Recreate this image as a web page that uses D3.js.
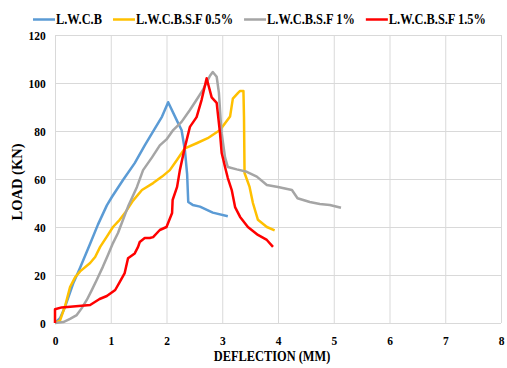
<!DOCTYPE html>
<html>
<head>
<meta charset="utf-8">
<script src="https://cdn.jsdelivr.net/npm/d3@7"></script>
<style>
  body { margin: 0; background: #fff; }
  text { font-family: "Times New Roman", "Liberation Serif", serif; font-weight: bold; fill: #000; }
</style>
</head>
<body>
<div id="viz"></div>
<script>
// values: [deflection mm, load kN]
const lwcb = [[0,0],[0.09,2],[0.18,6.7],[0.33,16.7],[0.45,23],[0.63,33],[0.77,41],[0.93,49],[1.02,52.5],[1.22,59.6],[1.43,66.6],[1.61,74],[1.79,81],[1.92,86],[2.03,92],[2.2,83.7],[2.27,80.4],[2.33,72],[2.37,62],[2.39,50.4],[2.47,49.2],[2.6,48.5],[2.83,46],[3.1,44.5]]
const lwcbsf05 = [[0,0],[0.09,1],[0.18,7],[0.27,15],[0.36,19],[0.45,21.5],[0.63,25],[0.72,27.5],[0.81,31.7],[0.93,36],[1.04,40],[1.16,43],[1.25,45.7],[1.4,51],[1.56,55.4],[1.76,58.3],[1.92,61],[2.06,63.7],[2.19,68],[2.33,72.8],[2.54,74.9],[2.74,77],[2.96,80.4],[3.14,86],[3.19,93.5],[3.28,95.8],[3.32,96.7],[3.38,96.7],[3.39,86],[3.4,62.5],[3.49,56.7],[3.55,50],[3.64,43],[3.8,40],[3.94,38.6]]
const lwcbsf1 = [[0,0],[0.15,0.4],[0.27,1.7],[0.39,3.3],[0.48,6.2],[0.57,9.6],[0.66,13.7],[0.75,18],[0.86,23.5],[0.95,28.3],[1.04,33.3],[1.13,37.5],[1.22,43],[1.31,48.5],[1.47,56.7],[1.58,63.7],[1.74,69],[1.88,74],[2.0,76.5],[2.12,80.4],[2.27,83.8],[2.42,88.75],[2.54,93],[2.65,97],[2.78,103],[2.83,104.6],[2.9,102.6],[2.94,96],[2.97,85],[2.99,79],[3.05,69],[3.1,65],[3.26,64],[3.44,63],[3.62,61],[3.8,57.5],[4.0,56.7],[4.25,55.4],[4.35,52],[4.57,50.4],[4.75,49.6],[4.93,49.2],[5.13,48]]
const lwcbsf15 = [[0,0],[0,5.7],[0.12,6.5],[0.63,7.5],[0.8,10],[0.93,11.25],[1.08,13.75],[1.16,17],[1.25,20.8],[1.31,27],[1.43,29],[1.49,31.7],[1.52,33.75],[1.61,35.4],[1.7,35.4],[1.76,35.8],[1.88,38.75],[2.0,40],[2.1,45.8],[2.11,51.25],[2.19,56.7],[2.24,63.7],[2.33,73.3],[2.42,81.7],[2.54,85.8],[2.63,93],[2.72,102],[2.81,94],[2.9,91.7],[2.96,79],[2.99,70.8],[3.05,65],[3.1,60.4],[3.17,55.4],[3.23,48.3],[3.32,44.2],[3.46,40],[3.64,36.7],[3.8,34.6],[3.91,31.7]]

const seriesNames = ["L.W.C.B", "L.W.C.B.S.F 0.5%", "L.W.C.B.S.F 1%", "L.W.C.B.S.F 1.5%"]
const seriesColors = ["#5b9bd5", "#ffc000", "#a5a5a5", "#ff0000"]
const xTicks = [0, 1, 2, 3, 4, 5, 6, 7, 8]
const yTicks = [0, 20, 40, 60, 80, 100, 120]

const width = 507
const height = 368
const plotLeft = 55, plotRight = 501, plotTop = 35, plotBottom = 323
const squeeze = 0.85
const legendSqueeze = 0.885

const svg = d3.select("#viz").append("svg")
  .attr("width", width)
  .attr("height", height)

const x = d3.scaleLinear().domain([0, 8]).range([plotLeft, plotRight])
const y = d3.scaleLinear().domain([0, 120]).range([plotBottom, plotTop])

// grid
svg.append("g")
  .attr("transform", `translate(0,${plotBottom})`)
  .call(d3.axisBottom(x).tickValues(xTicks).tickSize(-(plotBottom - plotTop)).tickFormat(d => d).tickPadding(12))
  .call(g => g.select(".domain").remove())
  .call(g => g.selectAll("line").attr("stroke", "#d9d9d9"))
  .call(g => g.selectAll("text").attr("font-size", 13.5).attr("transform", `scale(${squeeze},1)`))

svg.append("g")
  .attr("transform", `translate(${plotLeft},0)`)
  .call(d3.axisLeft(y).tickValues(yTicks).tickSize(-(plotRight - plotLeft)).tickFormat(d => d).tickPadding(11))
  .call(g => g.select(".domain").remove())
  .call(g => g.selectAll("line").attr("stroke", "#d9d9d9"))
  .call(g => g.selectAll("text").attr("font-size", 13.5).attr("transform", `scale(${squeeze},1)`))

svg.selectAll(".tick text").attr("fill", "#000").style("font-family", '"Times New Roman", "Liberation Serif", serif').style("font-weight", "bold")

// lines
const line = d3.line().x(d => x(d[0])).y(d => y(d[1]))
const allSeries = [lwcb, lwcbsf05, lwcbsf1, lwcbsf15]

svg.selectAll("path.series")
  .data(allSeries)
  .enter()
  .append("path")
  .attr("class", "series")
  .attr("d", d => line(d))
  .attr("fill", "none")
  .attr("stroke", (d, i) => seriesColors[i])
  .attr("stroke-width", 2.5)
  .attr("stroke-linejoin", "round")

// axis titles
svg.append("text")
  .attr("transform", `translate(272,361) scale(${legendSqueeze},1)`)
  .attr("text-anchor", "middle")
  .attr("font-size", 14)
  .text("DEFLECTION (MM)")

svg.append("text")
  .attr("transform", "translate(22,182) rotate(-90)")
  .attr("text-anchor", "middle")
  .attr("font-size", 14.5)
  .text("LOAD (KN)")

// legend
let lx = 33
seriesNames.forEach((name, i) => {
  svg.append("line")
    .attr("x1", lx).attr("x2", lx + 22)
    .attr("y1", 19.5).attr("y2", 19.5)
    .attr("stroke", seriesColors[i])
    .attr("stroke-width", 2.5)
  const t = svg.append("text")
    .attr("transform", `translate(${lx + 23},24) scale(${legendSqueeze},1)`)
    .attr("font-size", 14)
    .text(name)
  lx += 23 + t.node().getComputedTextLength() * legendSqueeze + 11
})
</script>
</body>
</html>
